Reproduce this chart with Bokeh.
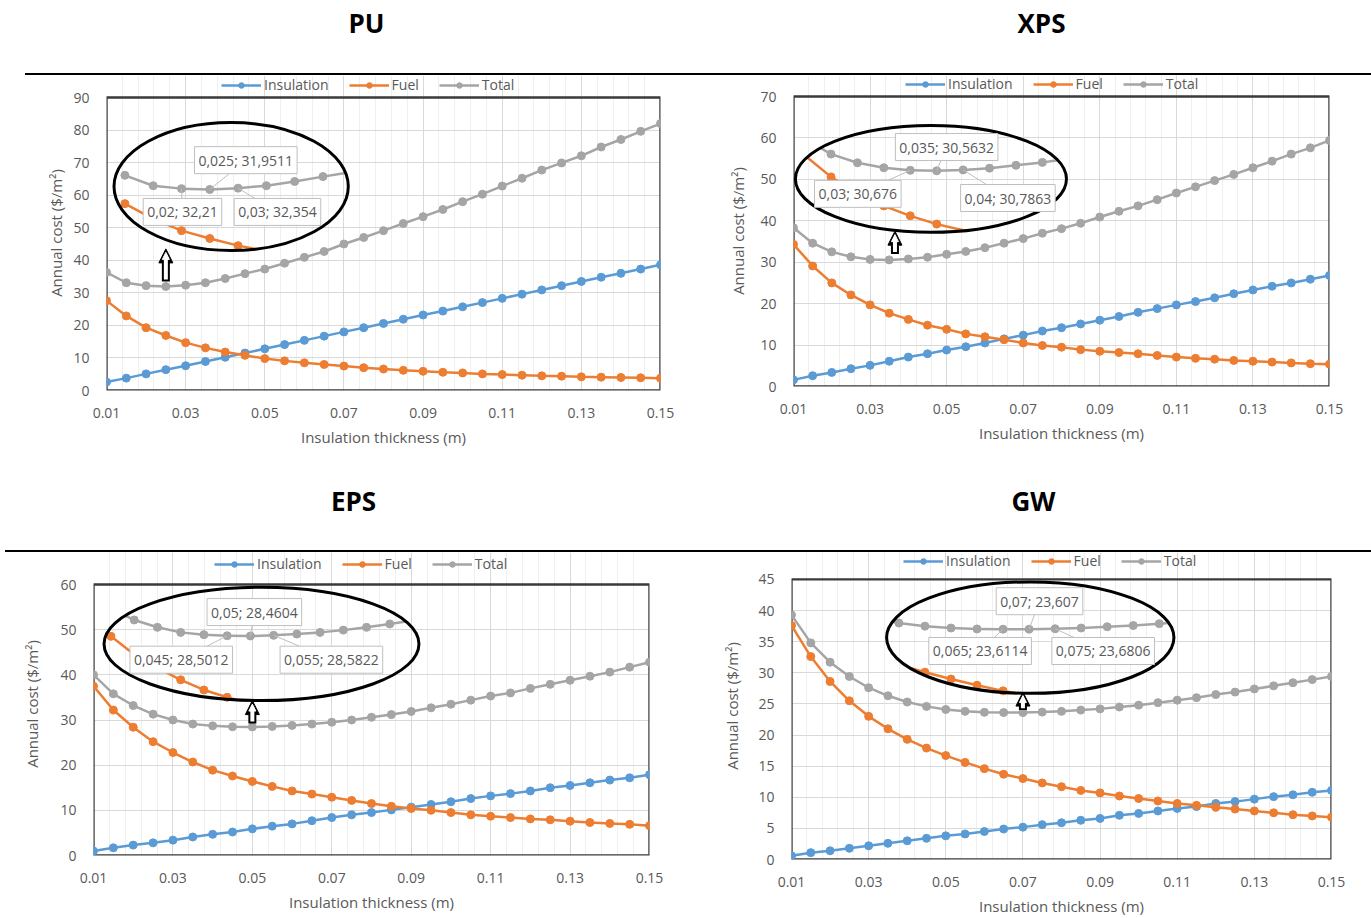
import math
from bokeh.plotting import figure
from bokeh.models import (Range1d, FixedTicker, PrintfTickFormatter, Legend, LegendItem,
                          Label, Arrow, NormalHead, Div, BoxAnnotation)
from bokeh.layouts import column, row
from bokeh.embed import file_html
from bokeh.resources import INLINE
from bokeh.core.properties import value

# ---------------- data ----------------
thickness = [0.010, 0.015, 0.020, 0.025, 0.030, 0.035, 0.040, 0.045, 0.050, 0.055,
             0.060, 0.065, 0.070, 0.075, 0.080, 0.085, 0.090, 0.095, 0.100, 0.105,
             0.110, 0.115, 0.120, 0.125, 0.130, 0.135, 0.140, 0.145, 0.150]
x_tick_values = [0.01, 0.03, 0.05, 0.07, 0.09, 0.11, 0.13, 0.15]
series_names = ["Insulation", "Fuel", "Total"]

pu_insulation = [2.6, 3.8, 5.1, 6.4, 7.6, 8.9, 10.2, 11.5, 12.8, 14.1, 15.4, 16.7, 18.0, 19.3, 20.6,
                 21.9, 23.2, 24.4, 25.7, 27.0, 28.3, 29.6, 30.9, 32.2, 33.5, 34.8, 36.0, 37.3, 38.6]
pu_fuel = [27.6, 22.9, 19.3, 16.9, 14.7, 13.1, 11.8, 10.8, 9.8, 9.1, 8.5, 8.0, 7.5, 7.0, 6.6,
           6.2, 5.9, 5.6, 5.4, 5.1, 4.9, 4.7, 4.5, 4.4, 4.2, 4.1, 4.0, 3.9, 3.8]
pu_total = [36.3, 33.1, 32.21, 31.9511, 32.354, 33.1, 34.4, 35.9, 37.3, 39.1, 40.9, 42.7, 45.0, 47.0, 49.1,
            51.3, 53.4, 55.6, 58.0, 60.3, 62.8, 65.2, 67.7, 69.9, 72.1, 74.8, 77.1, 79.6, 82.0]
pu_y_ticks = [0, 10, 20, 30, 40, 50, 60, 70, 80, 90]
pu_labels = ["0,025; 31,9511", "0,02; 32,21", "0,03; 32,354"]
pu_label_points = [0.025, 0.02, 0.03]

xps_insulation = [1.6, 2.6, 3.4, 4.3, 5.1, 6.1, 7.1, 7.9, 8.8, 9.6, 10.5, 11.5, 12.4, 13.4, 14.2,
                  15.1, 16.0, 16.9, 17.9, 18.8, 19.7, 20.5, 21.4, 22.4, 23.3, 24.2, 25.0, 25.9, 26.8]
xps_fuel = [34.3, 29.1, 25.0, 22.1, 19.7, 17.7, 16.2, 14.8, 13.8, 12.7, 12.0, 11.3, 10.5, 9.9, 9.5,
            8.9, 8.5, 8.2, 7.9, 7.5, 7.1, 6.8, 6.6, 6.3, 6.1, 5.9, 5.7, 5.5, 5.4]
xps_total = [38.3, 34.6, 32.5, 31.3, 30.676, 30.5632, 30.7863, 31.2, 31.9, 32.6, 33.5, 34.6, 35.7, 37.0, 38.1,
             39.4, 40.9, 42.3, 43.6, 45.1, 46.7, 48.2, 49.7, 51.2, 52.8, 54.4, 56.1, 57.6, 59.4]
xps_y_ticks = [0, 10, 20, 30, 40, 50, 60, 70]
xps_labels = ["0,035; 30,5632", "0,03; 30,676", "0,04; 30,7863"]
xps_label_points = [0.035, 0.03, 0.04]

eps_insulation = [1.0, 1.7, 2.3, 2.8, 3.4, 4.1, 4.7, 5.2, 5.9, 6.5, 7.0, 7.7, 8.4, 9.0, 9.5,
                  10.1, 10.7, 11.3, 11.9, 12.6, 13.2, 13.7, 14.3, 15.0, 15.5, 16.1, 16.7, 17.2, 17.9]
eps_fuel = [37.5, 32.2, 28.4, 25.2, 22.8, 20.7, 18.9, 17.6, 16.4, 15.3, 14.3, 13.6, 12.9, 12.2, 11.5,
            10.9, 10.4, 10.0, 9.5, 9.0, 8.7, 8.4, 8.1, 7.9, 7.6, 7.3, 7.1, 6.9, 6.6]
eps_total = [40.0, 35.8, 33.2, 31.3, 30.0, 29.1, 28.7, 28.5012, 28.4604, 28.5822, 28.8, 29.1, 29.5, 30.0, 30.6,
             31.2, 31.9, 32.7, 33.5, 34.4, 35.3, 36.0, 37.0, 37.9, 38.8, 39.7, 40.6, 41.7, 42.8]
eps_y_ticks = [0, 10, 20, 30, 40, 50, 60]
eps_labels = ["0,05; 28,4604", "0,045; 28,5012", "0,055; 28,5822"]
eps_label_points = [0.05, 0.045, 0.055]

gw_insulation = [0.6, 1.1, 1.4, 1.8, 2.2, 2.6, 3.0, 3.4, 3.8, 4.1, 4.5, 4.9, 5.2, 5.6, 5.9,
                 6.3, 6.6, 7.1, 7.4, 7.8, 8.2, 8.5, 9.0, 9.3, 9.7, 10.1, 10.4, 10.8, 11.1]
gw_fuel = [37.6, 32.6, 28.6, 25.5, 23.0, 21.0, 19.3, 17.9, 16.7, 15.6, 14.6, 13.7, 13.0, 12.3, 11.7,
           11.1, 10.7, 10.2, 9.8, 9.4, 9.0, 8.7, 8.4, 8.1, 7.8, 7.5, 7.2, 7.0, 6.8]
gw_total = [39.3, 34.8, 31.7, 29.4, 27.6, 26.3, 25.3, 24.6, 24.1, 23.8, 23.65, 23.6114, 23.607, 23.6806, 23.8,
            24.0, 24.2, 24.5, 24.8, 25.2, 25.6, 26.0, 26.5, 26.9, 27.4, 27.9, 28.4, 28.9, 29.4]
gw_y_ticks = [0, 5, 10, 15, 20, 25, 30, 35, 40, 45]
gw_labels = ["0,07; 23,607", "0,065; 23,6114", "0,075; 23,6806"]
gw_label_points = [0.07, 0.065, 0.075]

# ---------------- styling ----------------
FONT = "Open Sans"
BLUE, ORANGE, GRAY = "#5B9BD5", "#ED7D31", "#A5A5A5"
TXT = "#595959"
x_minor = [round(0.01 + 0.004 * k, 4) for k in range(36)]


def clip_to_ellipse(xs, ys, cx, cy, a, b):
    sx_, sy_ = [], []
    for i in range(len(xs) - 1):
        x0, y0, x1, y1 = xs[i], ys[i], xs[i + 1], ys[i + 1]
        u0, v0 = (x0 - cx) / a, (y0 - cy) / b
        du, dv = (x1 - x0) / a, (y1 - y0) / b
        A = du * du + dv * dv
        B = 2 * (u0 * du + v0 * dv)
        C = u0 * u0 + v0 * v0 - 1
        disc = B * B - 4 * A * C
        if A == 0 or disc <= 0:
            continue
        sq = math.sqrt(disc)
        lo = max(0.0, (-B - sq) / (2 * A))
        hi = min(1.0, (-B + sq) / (2 * A))
        if hi <= lo:
            continue
        sx_.append([x0 + lo * (x1 - x0), x0 + hi * (x1 - x0)])
        sy_.append([y0 + lo * (y1 - y0), y0 + hi * (y1 - y0)])
    return sx_, sy_


def make_panel(name, ins, fuel, total, yticks, labels, label_pts, geo, inset):
    W = geo["W"]
    fl = geo["x0"] + geo["L"]          # page x of the plot frame's left edge
    fr = geo["x0"] + W - geo["R"]      # page x of the plot frame's right edge
    ytop = yticks[-1]
    fh = geo["FH"]                      # pixel height of the 0..ytop plot area
    ppu = fh / ytop
    ymax = (geo["H"] - geo["B"]) / ppu  # frame also holds the legend strip above ytop

    # ---- title strip ----
    th = geo["TH"]
    tf = figure(width=W, height=th, x_range=Range1d(fl, fr), y_range=Range1d(0, th),
                x_axis_type=None, y_axis_type=None, output_backend="svg",
                toolbar_location=None, min_border=0, title=None)
    tf.outline_line_color = None
    tf.text(x=[geo["tx"]], y=[th - geo["ty"]], text=[name], text_font=value(FONT),
            text_font_style="bold", text_font_size="26px", text_align="center",
            text_baseline="middle", text_color="black")

    # ---- horizontal rule under the title ----
    rx0 = geo["rx0"]
    rule = Div(text="", width=W - rx0, height=2, margin=(0, 0, 0, rx0),
               styles={"background-color": "#000000", "height": "2px"})

    # ---- main chart ----
    p = figure(width=W, height=geo["H"], x_range=Range1d(0.01, 0.15),
               y_range=Range1d(0, ymax), output_backend="svg",
               toolbar_location=None, title=None,
               min_border_left=geo["L"], min_border_right=geo["R"],
               min_border_top=0, min_border_bottom=geo["B"])
    p.outline_line_color = None
    xt = FixedTicker(ticks=x_tick_values, minor_ticks=x_minor)
    p.xaxis.ticker = xt
    p.xgrid.ticker = xt
    p.xgrid.bounds = (0, ytop)
    p.xaxis.formatter = PrintfTickFormatter(format="%.2f")
    yt = FixedTicker(ticks=yticks)
    p.yaxis.ticker = yt
    p.ygrid.ticker = yt
    p.yaxis.bounds = (0, ytop)
    p.xgrid.grid_line_color = "#d9d9d9"
    p.xgrid.minor_grid_line_color = "#efefef"
    p.ygrid.grid_line_color = "#d9d9d9"
    for ax in p.axis:
        ax.axis_line_color = None
        ax.major_tick_line_color = None
        ax.minor_tick_line_color = None
        ax.major_label_text_font = FONT
        ax.major_label_text_font_size = "14px"
        ax.major_label_text_color = TXT
        ax.major_label_standoff = 11
        ax.axis_label_text_font = FONT
        ax.axis_label_text_font_size = "15px"
        ax.axis_label_text_color = TXT
        ax.axis_label_text_font_style = "normal"
    p.xaxis.axis_label = "Insulation thickness (m)"
    p.xaxis.axis_label_standoff = 6
    p.yaxis.axis_label = "Annual cost ($/m\u00b2)"
    p.yaxis.axis_label_standoff = geo["yls"]
    # plot-area border
    p.add_layout(BoxAnnotation(left=0.01, right=0.15, bottom=0, top=ytop, fill_color=None,
                               fill_alpha=0, line_color="#3a3a3a", line_alpha=1.0,
                               line_width=2.4, level="underlay"))

    items = []
    for vals, col, nm in zip([ins, fuel, total], [BLUE, ORANGE, GRAY], series_names):
        rl = p.line(thickness, vals, line_color=col, line_width=2.5)
        rs = p.scatter(thickness, vals, marker="circle", size=8, fill_color=col, line_color=col)
        items.append(LegendItem(label=nm, renderers=[rl, rs]))
    legend = Legend(items=items, orientation="horizontal",
                    location=(geo["legx"], fh + geo["legdy"]),
                    border_line_color=None, background_fill_alpha=0,
                    label_text_font=FONT, label_text_font_size="14px", label_text_color=TXT,
                    glyph_width=40, glyph_height=14, label_height=16, spacing=20,
                    padding=0, margin=0, label_standoff=3)
    p.add_layout(legend)

    # ---- magnified call-out inside the ellipse ----
    cx, cy, ew, eh = inset["ellipse"]
    a, b = ew / 2, eh / 2
    (ax_, ay_), (dx_, dy_) = inset["anchor"], inset["dest"]
    sx, sy = inset["scale"]

    def tx(x):
        return dx_ + sx * (x - ax_)

    def ty(y):
        return dy_ + sy * (y - ay_)

    for vals, col in [(fuel, ORANGE), (total, GRAY)]:
        X = [tx(v) for v in thickness]
        Y = [ty(v) for v in vals]
        mx, my = clip_to_ellipse(X, Y, cx, cy, a, b)
        if mx:
            p.multi_line(mx, my, line_color=col, line_width=2.5)
        keep = [i for i in range(len(X)) if ((X[i] - cx) / a) ** 2 + ((Y[i] - cy) / b) ** 2 <= 0.97]
        p.scatter([X[i] for i in keep], [Y[i] for i in keep], marker="circle", size=8,
                  fill_color=col, line_color=col)

    for (lx, ly), src in zip(inset["boxes"], label_pts):
        i = min(range(len(thickness)), key=lambda k: abs(thickness[k] - src))
        p.segment(x0=[lx], y0=[ly], x1=[tx(thickness[i])], y1=[ty(total[i])],
                  line_color="#bfbfbf", line_width=1)

    p.ellipse(x=[cx], y=[cy], width=[ew], height=[eh], fill_color=None,
              line_color="black", line_width=3)

    for (lx, ly), txt in zip(inset["boxes"], labels):
        p.add_layout(Label(x=lx, y=ly, text=txt, text_align="center", text_baseline="middle",
                           text_font=FONT, text_font_size="14px", text_color=TXT,
                           background_fill_color="white", border_line_color="#bfbfbf",
                           border_line_width=1, padding=4))

    ax0, y0, y1 = inset["arrow"]
    p.add_layout(Arrow(x_start=ax0, y_start=y0, x_end=ax0, y_end=y1, line_color="black",
                       line_width=8, start=None,
                       end=NormalHead(size=14, fill_color="black", line_color="black", line_width=1)))
    p.add_layout(Arrow(x_start=ax0, y_start=y0 + 2 / ppu, x_end=ax0, y_end=y1 - 3.5 / ppu,
                       line_color="white", line_width=4, start=None,
                       end=NormalHead(size=7, fill_color="white", line_color="white", line_width=1)))
    return column(tf, rule, p)


pu = make_panel("PU", pu_insulation, pu_fuel, pu_total, pu_y_ticks, pu_labels, pu_label_points,
                dict(x0=0, W=680, TH=73, tx=366, ty=22, rx0=25, legx=115, legdy=3,
                     H=384, L=106, R=20, FH=293, B=69, yls=4),
                dict(ellipse=(0.0415, 62.65, 0.0592, 39.3), anchor=(0.025, 31.9511), dest=(0.0361, 61.75),
                     scale=(1.43, 1.0), boxes=[(0.0452, 70.75), (0.0292, 54.85), (0.0532, 54.85)],
                     arrow=(0.025, 33.5, 43.5)))
xps = make_panel("XPS", xps_insulation, xps_fuel, xps_total, xps_y_ticks, xps_labels, xps_label_points,
                 dict(x0=680, W=691, TH=73, tx=1041, ty=22, rx0=0, legx=112, legdy=3,
                      H=384, L=113, R=42, FH=290, B=73, yls=9),
                 dict(ellipse=(0.0459, 50.1, 0.0708, 25.8), anchor=(0.035, 30.5632), dest=(0.0474, 52.06),
                      scale=(1.38, 1.0), boxes=[(0.050, 57.8), (0.0268, 46.5), (0.066, 45.5)],
                      arrow=(0.0365, 32.0, 37.5)))
eps = make_panel("EPS", eps_insulation, eps_fuel, eps_total, eps_y_ticks, eps_labels, eps_label_points,
                 dict(x0=0, W=680, TH=91, tx=353, ty=41, rx0=5, legx=121, legdy=11,
                      H=366, L=93, R=31, FH=271, B=63, yls=15),
                 dict(ellipse=(0.0523, 46.85, 0.0793, 25.1), anchor=(0.05, 28.4604), dest=(0.0495, 48.6),
                      scale=(1.17, 1.25), boxes=[(0.0505, 53.9), (0.0321, 43.35), (0.0699, 43.35)],
                      arrow=(0.05, 29.2, 34.3)))
gw = make_panel("GW", gw_insulation, gw_fuel, gw_total, gw_y_ticks, gw_labels, gw_label_points,
                dict(x0=680, W=691, TH=91, tx=1033, ty=41, rx0=0, legx=112, legdy=8,
                     H=366, L=111, R=40, FH=281, B=58, yls=13),
                dict(ellipse=(0.0719, 35.65, 0.0745, 17.9), anchor=(0.07, 23.607), dest=(0.0716, 37.0),
                     scale=(1.35, 1.0), boxes=[(0.0743, 41.5), (0.0589, 33.5), (0.0908, 33.5)],
                     arrow=(0.07, 24.0, 26.9)))

layout = column(row(pu, xps), row(eps, gw))
open("out.html", "w").write(file_html(layout, INLINE))
